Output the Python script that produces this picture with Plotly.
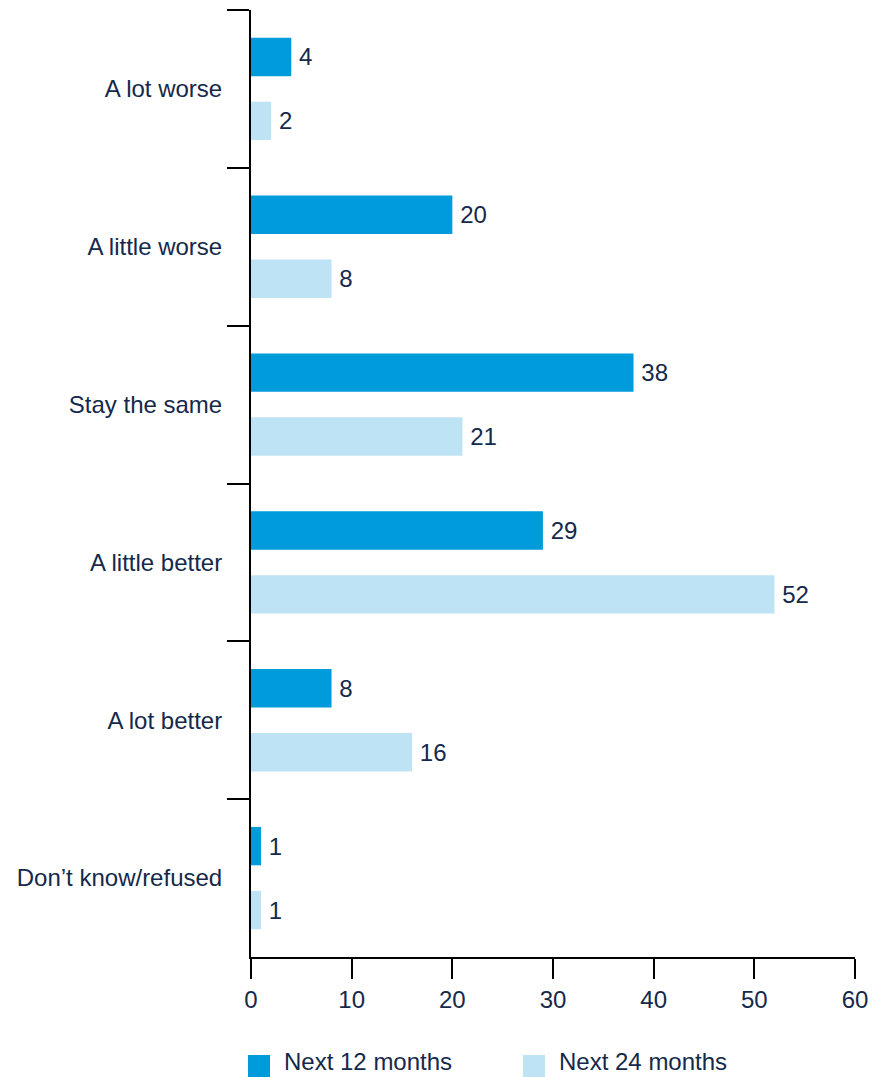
import plotly.graph_objects as go

categories = ["A lot worse", "A little worse", "Stay the same", "A little better", "A lot better", "Don\u2019t know/refused"]
next_12 = [4, 20, 38, 29, 8, 1]
next_24 = [2, 8, 21, 52, 16, 1]
series_names = ["Next 12 months", "Next 24 months"]
x_ticks = [0, 10, 20, 30, 40, 50, 60]

DARK = "#009BDB"
LIGHT = "#BEE3F5"
TEXT = "#14294B"
FONT = "Liberation Sans, Arial, sans-serif"
FS = 24

fig = go.Figure()
for name, vals, col in [(series_names[0], next_12, DARK), (series_names[1], next_24, LIGHT)]:
    fig.add_trace(go.Bar(
        y=categories, x=vals, orientation="h", name=name,
        marker=dict(color=col, line=dict(width=0)),
        text=["\u2009" + str(v) for v in vals], textposition="outside",
        textfont=dict(size=FS, color=TEXT, family=FONT),
        cliponaxis=False, showlegend=False,
    ))

fig.update_layout(
    width=896, height=1077,
    margin=dict(l=251, r=41, t=10, b=120),
    paper_bgcolor="white", plot_bgcolor="white",
    barmode="group", bargap=0.19, bargroupgap=0.4,
    font=dict(family=FONT, size=FS, color=TEXT),
    xaxis=dict(range=[0, 60], tickvals=x_ticks, ticks="outside", ticklen=20,
               tickwidth=2, tickcolor="black", showline=True, linecolor="black",
               linewidth=2, showgrid=False, zeroline=False,
               tickfont=dict(size=FS, color=TEXT, family=FONT)),
    yaxis=dict(type="category", categoryorder="array", categoryarray=categories,
               autorange="reversed", tickson="boundaries", ticks="outside",
               ticklen=22, tickwidth=2, tickcolor="black", showline=True,
               linecolor="black", linewidth=2, showgrid=False, zeroline=False,
               ticklabelstandoff=22,
               tickfont=dict(size=FS, color=TEXT, family=FONT)),
)

# manual legend
legend_items = [(series_names[0], DARK, 248), (series_names[1], LIGHT, 523)]
for name, col, px in legend_items:
    fig.add_shape(type="rect", xref="paper", yref="paper",
                  x0=(px - 251) / 604, x1=(px + 22 - 251) / 604,
                  y0=-(1055 - 957) / 947, y1=-(1077 - 957) / 947,
                  fillcolor=col, line=dict(width=0))
    fig.add_annotation(xref="paper", yref="paper",
                       x=(px + 35 - 251) / 604, y=-(1076 - 957) / 947,
                       text=name, showarrow=False, xanchor="left", yanchor="bottom",
                       borderpad=0,
                       font=dict(size=FS, color=TEXT, family=FONT))

fig.write_html("out.html")
